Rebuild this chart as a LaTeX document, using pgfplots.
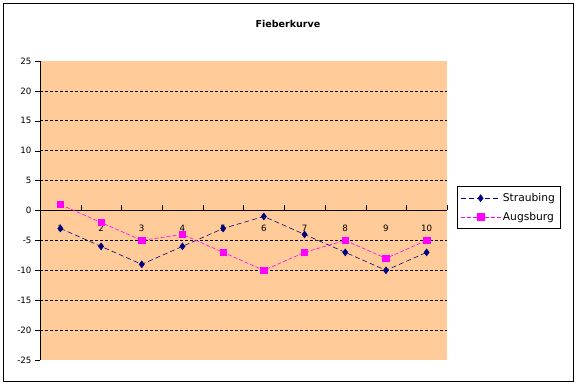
\documentclass[border=0pt]{standalone}
\usepackage{fontspec}
\setmainfont{DejaVu Sans}
\usepackage{pgfplots}
\pgfplotsset{compat=1.18}
\definecolor{plotbg}{RGB}{255,204,153}
\definecolor{navy}{RGB}{0,0,128}
\definecolor{mag}{RGB}{255,0,255}
\begin{document}
\begin{tikzpicture}
\useasboundingbox (0pt,0pt) rectangle (577pt,385pt);
\fill[white] (0pt,0pt) rectangle (577pt,385pt);
\draw[black,line width=0.8pt] (3pt,4pt) rectangle (573pt,382pt);
\node[font=\fontsize{9.5}{11}\selectfont\bfseries] at (288pt,361pt) {Fieberkurve};
\begin{axis}[
  at={(40pt,25pt)}, anchor=south west,
  scale only axis, width=407pt, height=299pt,
  xmin=0.5, xmax=10.5, ymin=-25, ymax=25,
  axis y line=left, axis x line=middle,
  x axis line style={-}, y axis line style={-},
  hide obscured x ticks=false, hide obscured y ticks=false,
  axis background/.style={fill=plotbg},
  ytick={-25,-20,...,25},
  xtick={0.5,1.5,...,10.5},
  x tick label as interval,
  xticklabels={1,2,3,4,5,6,7,8,9,10},
  xtick style={draw=black, yshift=2.5pt},
  ytick style={draw=black},
  major tick length=5pt,
  ytick align=outside, xtick align=center,
  tick label style={font=\fontsize{8.7}{10}\selectfont},
  xticklabel style={yshift=-9pt},
  /pgf/number format/assume math mode=true,
  extra y ticks={-20,-15,-10,-5,5,10,15,20},
  extra y tick labels={},
  extra y tick style={grid=major, major grid style={black, dash pattern=on 3pt off 2pt, line width=0.6pt}},
  legend style={at={(1,0.5)}, anchor=west, xshift=10pt, yshift=3pt, draw=black, line width=0.6pt,
    font=\fontsize{10.7}{12}\selectfont, row sep=5pt, inner xsep=3pt, inner ysep=5pt},
  legend cell align=left,
  legend image code/.code={\draw[mark repeat=2,mark phase=2,#1] plot coordinates {(0pt,0pt) (20pt,0pt) (40pt,0pt)};},
]
\addplot[navy, line width=0.6pt, dash pattern=on 5pt off 3pt, mark=diamond*, mark size=3.4pt, mark options={solid, fill=navy}]
  coordinates {(1,-3) (2,-6) (3,-9) (4,-6) (5,-3) (6,-1) (7,-4) (8,-7) (9,-10) (10,-7)};
\addlegendentry{Straubing}
\addplot[mag, line width=0.6pt, dash pattern=on 4pt off 2pt, mark=square*, mark size=3.2pt, mark options={solid, fill=mag}]
  coordinates {(1,1) (2,-2) (3,-5) (4,-4) (5,-7) (6,-10) (7,-7) (8,-5) (9,-8) (10,-5)};
\addlegendentry{Augsburg}
\end{axis}
\end{tikzpicture}
\end{document}
